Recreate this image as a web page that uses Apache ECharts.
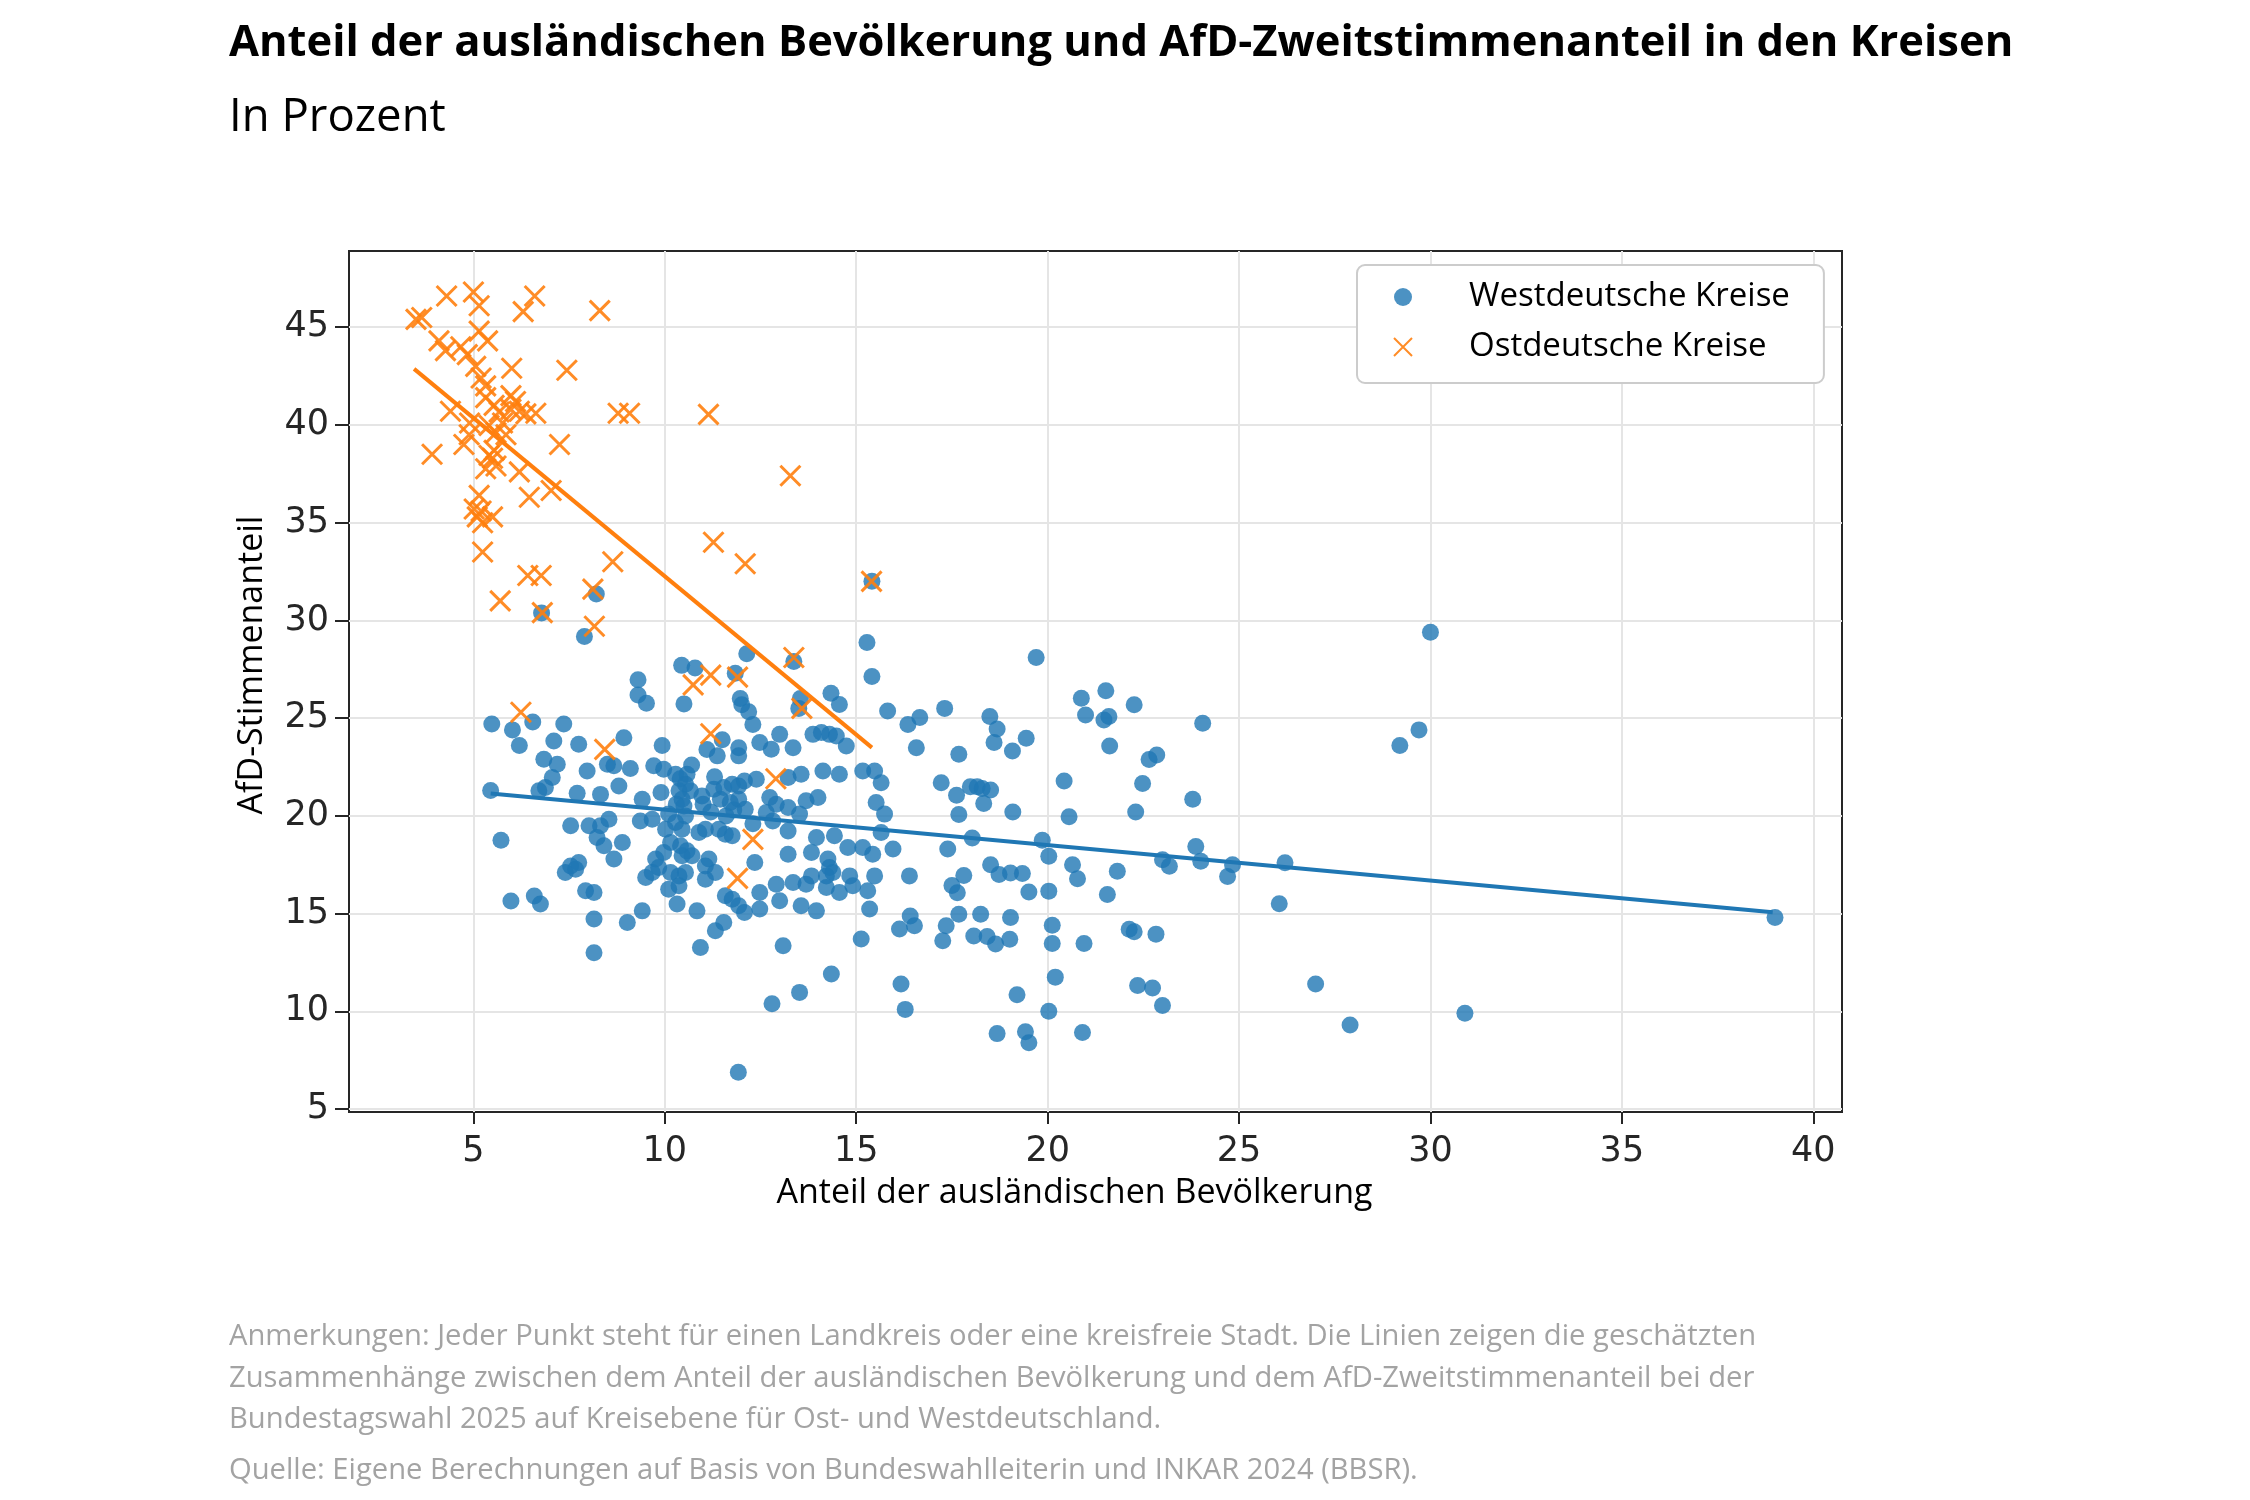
<!DOCTYPE html>
<html>
<head>
<meta charset="utf-8">
<title>AfD und ausländische Bevölkerung</title>
<script src="https://cdn.jsdelivr.net/npm/echarts@6/dist/echarts.min.js"></script>
<style>
    html, body { margin: 0; padding: 0; background: #fff; }
    #chart { width: 2250px; height: 1500px; }
</style>
</head>
<body>
<div id="chart"></div>
<script>
// Anteil ausländische Bevölkerung (x) / AfD-Zweitstimmenanteil (y), in Prozent
var westPoints = [
    // oberhalb 25 %
    [8.21, 31.35], [6.78, 30.38], [7.9, 29.18], [12.14, 28.3], [10.44, 27.7], [10.79, 27.56], [11.84, 27.3],
    [13.37, 27.9], [9.3, 26.96], [9.3, 26.19], [9.52, 25.76], [10.5, 25.73], [11.97, 26.0], [12.01, 25.68],
    [12.19, 25.33], [13.54, 26.0], [13.5, 25.5], [15.41, 32.0], [15.28, 28.87], [15.41, 27.13], [19.7, 28.1],
    [15.82, 25.37], [16.66, 25.03], [17.31, 25.5], [18.49, 25.08], [14.34, 26.27], [14.56, 25.7], [20.88, 26.02],
    [21.52, 26.4], [22.26, 25.68], [20.99, 25.16], [21.6, 25.08], [30.0, 29.4],
    // links
    [5.48, 24.7], [6.02, 24.4], [6.2, 23.6], [6.55, 24.8], [5.45, 21.3], [5.72, 18.75], [5.98, 15.64], [6.59, 15.9],
    [12.8, 10.39], [11.92, 6.88],
    // 7 bis 12 %
    [7.36, 24.7], [7.1, 23.83], [7.75, 23.66], [8.93, 24.0], [9.93, 23.6], [6.84, 22.9], [7.19, 22.64], [7.06, 21.96],
    [7.97, 22.3], [8.5, 22.64], [8.67, 22.56], [9.1, 22.42], [9.71, 22.56], [9.97, 22.39], [6.71, 21.28], [6.88, 21.45],
    [7.71, 21.16], [8.32, 21.1], [8.8, 21.53], [9.41, 20.85], [10.28, 22.13], [10.58, 22.13], [10.54, 21.62],
    [10.37, 21.28], [10.67, 21.28], [10.45, 20.85], [10.97, 21.02], [11.28, 21.36], [11.54, 21.45], [11.76, 21.62],
    [11.93, 21.53], [11.1, 23.4], [11.37, 23.07], [11.5, 23.9], [11.93, 23.49], [11.93, 23.07], [11.45, 20.85],
    [11.71, 20.68], [11.93, 20.85], [12.1, 20.34], [7.54, 19.49], [8.02, 19.49], [8.32, 19.49], [8.54, 19.83],
    [8.23, 18.89], [8.41, 18.47], [8.89, 18.64], [8.67, 17.79], [9.36, 19.74], [9.67, 19.83], [10.02, 19.32],
    [10.28, 19.66], [10.45, 19.32], [10.54, 20.0], [10.15, 18.64], [9.97, 18.13], [9.76, 17.79], [9.84, 17.36],
    [9.67, 17.1], [10.41, 18.47], [10.58, 18.21], [10.71, 17.96], [10.45, 17.96], [10.89, 19.15], [11.06, 19.32],
    [11.41, 19.32], [11.58, 19.06], [11.76, 18.98], [11.15, 17.79], [11.06, 17.44], [11.32, 17.1], [10.15, 17.1],
    [10.37, 16.93], [10.54, 17.1], [9.5, 16.85], [10.1, 16.25], [10.37, 16.42], [7.54, 17.44], [7.4, 17.1],
    [7.67, 17.27], [7.75, 17.61], [7.93, 16.17], [8.15, 16.08], [6.75, 15.49], [8.15, 14.72], [9.02, 14.55],
    [9.41, 15.14], [10.32, 15.49], [10.84, 15.14], [11.06, 16.76], [11.58, 15.91], [11.76, 15.74], [11.93, 15.4],
    [11.32, 14.12], [11.54, 14.55], [10.93, 13.27], [8.15, 13.0],
    [10.4, 21.9], [10.5, 20.5], [10.3, 20.6], [11.2, 20.2], [11.6, 20.0], [11.0, 20.6], [10.7, 22.6], [11.3, 22.0],
    [9.9, 21.2], [10.1, 20.1], [11.8, 20.3], [12.3, 19.6],
    // 12 bis 17,5 %
    [12.3, 24.68], [13.0, 24.17], [12.48, 23.75], [12.78, 23.41], [13.35, 23.49], [13.87, 24.17], [14.09, 24.26],
    [14.3, 24.17], [14.48, 24.09], [14.74, 23.58], [16.57, 23.49], [16.35, 24.68], [12.08, 21.79], [12.39, 21.87],
    [13.22, 21.96], [13.56, 22.13], [14.13, 22.3], [14.56, 22.13], [15.17, 22.3], [15.48, 22.3], [15.65, 21.7],
    [17.22, 21.7], [12.74, 20.94], [12.91, 20.6], [12.65, 20.17], [12.82, 19.74], [13.22, 20.43], [13.52, 20.09],
    [13.69, 20.77], [14.0, 20.94], [13.22, 19.23], [15.52, 20.68], [15.74, 20.09], [15.65, 19.15], [13.96, 18.89],
    [14.43, 18.98], [13.22, 18.04], [13.83, 18.13], [14.78, 18.38], [15.17, 18.38], [15.43, 18.04], [15.96, 18.3],
    [14.26, 17.79], [14.3, 17.36], [14.22, 16.93], [14.39, 17.1], [14.83, 16.93], [15.48, 16.93], [12.35, 17.61],
    [12.91, 16.5], [13.35, 16.59], [13.69, 16.5], [13.83, 16.93], [14.22, 16.34], [14.56, 16.08], [14.91, 16.42],
    [15.3, 16.17], [12.48, 16.08], [12.48, 15.23], [12.08, 15.06], [13.0, 15.66], [13.56, 15.4], [13.96, 15.14],
    [15.35, 15.23], [16.39, 16.93], [17.39, 18.3], [17.5, 16.44], [16.13, 14.21], [16.52, 14.38], [17.35, 14.38],
    [17.26, 13.61], [15.13, 13.7], [13.09, 13.36], [14.35, 11.91], [16.17, 11.4], [13.52, 10.97], [16.41, 14.88],
    // ab 17,5 %
    [17.68, 23.15], [18.68, 24.44], [18.6, 23.76], [19.08, 23.32], [19.44, 23.97], [17.62, 21.06], [17.98, 21.49],
    [18.16, 21.49], [18.29, 21.4], [18.51, 21.32], [18.33, 20.63], [17.68, 20.07], [19.09, 20.2], [20.43, 21.78],
    [20.56, 19.95], [21.47, 24.9], [21.62, 23.57], [24.05, 24.74], [22.65, 22.89], [22.85, 23.11], [22.48, 21.66],
    [23.79, 20.85], [22.3, 20.2], [18.03, 18.87], [19.86, 18.75], [23.87, 18.43],
    [17.81, 16.95], [17.64, 16.07], [20.03, 17.93], [18.51, 17.5], [18.73, 17.0], [19.03, 17.08], [19.34, 17.05],
    [20.65, 17.5], [20.78, 16.78], [21.82, 17.17], [23.0, 17.76], [23.18, 17.42], [24.0, 17.68], [24.83, 17.5],
    [24.7, 16.9], [21.56, 15.98], [19.51, 16.1], [20.03, 16.15], [17.68, 14.97], [18.25, 14.97], [18.07, 13.86],
    [18.42, 13.83], [18.64, 13.44], [19.01, 13.69], [19.03, 14.8], [20.12, 14.41], [20.12, 13.47], [20.95, 13.47],
    [22.13, 14.2], [22.26, 14.07], [22.83, 13.95], [19.2, 10.85], [20.2, 11.75], [20.03, 10.0], [22.35, 11.32],
    [22.74, 11.19], [23.0, 10.3], [18.68, 8.86], [19.42, 8.95], [19.51, 8.39], [20.91, 8.92], [16.28, 10.1],
    [29.7, 24.4], [29.2, 23.6], [26.2, 17.6], [26.05, 15.5], [27.0, 11.4], [27.9, 9.3], [30.9, 9.9], [39.0, 14.8]
];

var eastPoints = [
    [3.5, 45.4], [3.65, 45.5], [4.3, 46.6], [5.0, 46.8], [5.15, 46.1], [6.6, 46.6], [6.3, 45.8], [8.3, 45.85],
    [4.1, 44.3], [4.27, 43.8], [5.15, 44.8], [5.37, 44.3], [4.67, 44.0], [4.84, 43.6], [5.06, 43.0], [5.2, 42.4],
    [6.0, 42.9], [7.44, 42.8], [5.32, 42.0], [5.98, 41.5], [6.1, 41.2], [5.32, 41.4], [5.54, 41.0], [4.4, 40.7],
    [4.9, 40.1], [5.67, 40.66], [5.98, 40.8], [6.2, 40.7], [6.37, 40.57], [6.63, 40.6], [8.78, 40.6], [9.08, 40.6],
    [11.14, 40.54], [5.41, 39.97], [5.76, 40.1], [4.89, 39.5], [4.75, 39.0], [5.59, 39.6], [5.85, 39.5], [7.25, 39.0],
    [3.92, 38.5], [5.41, 38.44], [5.54, 38.7], [5.32, 37.76], [5.59, 37.9], [5.5, 38.3], [6.2, 37.6], [6.46, 36.3],
    [7.03, 36.65], [5.15, 36.4], [5.02, 35.7], [5.2, 35.6], [5.1, 35.3], [5.5, 35.3], [5.24, 35.0], [13.28, 37.4],
    [5.24, 33.5], [11.27, 34.0], [12.1, 32.9], [8.64, 33.0], [6.42, 32.3], [6.77, 32.3], [5.7, 31.0], [8.12, 31.6],
    [6.8, 30.4], [8.16, 29.7], [13.37, 28.1], [11.2, 27.2], [10.74, 26.7], [11.9, 27.1], [13.58, 25.5], [6.24, 25.3],
    [11.2, 24.2], [8.43, 23.4], [12.9, 21.9], [12.3, 18.8], [11.9, 16.8], [15.4, 32.0]
];

// geschätzte Zusammenhänge (Regressionsgeraden), Endpunkte
var westTrend = [[5.45, 21.15], [38.94, 15.07]];
var eastTrend = [[3.45, 42.87], [15.41, 23.49]];

var xTicks = [5, 10, 15, 20, 25, 30, 35, 40];
var yTicks = [5, 10, 15, 20, 25, 30, 35, 40, 45];
var xRange = [1.75, 40.75];
var yRange = [4.85, 48.9];

var seriesNames = ['Westdeutsche Kreise', 'Ostdeutsche Kreise'];
var colors = ['#1f77b4', '#ff7f0e'];

var noteLines = [
    'Anmerkungen: Jeder Punkt steht für einen Landkreis oder eine kreisfreie Stadt. Die Linien zeigen die geschätzten',
    'Zusammenhänge zwischen dem Anteil der ausländischen Bevölkerung und dem AfD-Zweitstimmenanteil bei der',
    'Bundestagswahl 2025 auf Kreisebene für Ost- und Westdeutschland.'
];
var sourceLine = 'Quelle: Eigene Berechnungen auf Basis von Bundeswahlleiterin und INKAR 2024 (BBSR).';

var chart = echarts.init(document.getElementById('chart'));

var axisColor = '#262626';
var gridColor = '#e5e5e5';

var option = {
    backgroundColor: '#fff',
    animation: false,

    title: [
        {
            text: 'Anteil der ausländischen Bevölkerung und AfD-Zweitstimmenanteil in den Kreisen',
            left: 229,
            top: 22,
            padding: 0,
            textStyle: {
                fontFamily: 'Open Sans',
                fontWeight: 'bold',
                fontSize: 43.5,
                color: '#000'
            }
        },
        {
            text: 'In Prozent',
            left: 229,
            top: 95,
            padding: 0,
            textStyle: {
                fontFamily: 'Open Sans',
                fontWeight: 'normal',
                fontSize: 45.5,
                color: '#000'
            }
        },
        {
            text: noteLines.join('\n'),
            left: 229,
            top: 1316,
            padding: 0,
            textStyle: {
                fontFamily: 'Open Sans',
                fontWeight: 'normal',
                fontSize: 29.2,
                lineHeight: 41.5,
                color: '#a3a3a3'
            }
        },
        {
            text: sourceLine,
            left: 229,
            top: 1450,
            padding: 0,
            textStyle: {
                fontFamily: 'Open Sans',
                fontWeight: 'normal',
                fontSize: 29.2,
                lineHeight: 41.5,
                color: '#a3a3a3'
            }
        }
    ],

    legend: {
        data: seriesNames,
        orient: 'vertical',
        left: 1357,
        top: 265,
        padding: [14, 34, 18, 36],
        itemGap: 14,
        itemWidth: 18,
        itemHeight: 18,
        backgroundColor: '#fff',
        borderColor: '#cccccc',
        borderWidth: 2,
        borderRadius: 8,
        textStyle: {
            fontFamily: 'Open Sans',
            fontSize: 33,
            color: '#000',
            lineHeight: 36,
            padding: [0, 0, 0, 52]
        }
    },

    grid: {
        left: 349,
        top: 251,
        width: 1493,
        height: 861,
        show: true,
        borderColor: axisColor,
        borderWidth: 2,
        backgroundColor: 'transparent'
    },

    xAxis: {
        type: 'value',
        min: xRange[0],
        max: xRange[1],
        name: 'Anteil der ausländischen Bevölkerung',
        nameLocation: 'middle',
        nameGap: 64,
        nameTextStyle: {
            fontFamily: 'Open Sans',
            fontSize: 34,
            color: '#000',
            padding: [0, 42, 0, 0]
        },
        axisLine: { show: false },
        axisTick: {
            show: true,
            customValues: xTicks,
            length: 12,
            lineStyle: { color: axisColor, width: 2 }
        },
        axisLabel: {
            customValues: xTicks,
            margin: 22,
            fontFamily: 'DejaVu Sans',
            fontSize: 35,
            color: axisColor
        },
        splitLine: {
            show: true,
            lineStyle: { color: gridColor, width: 2 }
        }
    },

    yAxis: {
        type: 'value',
        min: yRange[0],
        max: yRange[1],
        name: 'AfD-Stimmenanteil',
        nameLocation: 'middle',
        nameGap: 80,
        nameTextStyle: {
            fontFamily: 'Open Sans',
            fontSize: 34,
            color: '#000',
            padding: [0, 0, 0, 33]
        },
        axisLine: { show: false },
        axisTick: {
            show: true,
            customValues: yTicks,
            length: 14,
            lineStyle: { color: axisColor, width: 2 }
        },
        axisLabel: {
            customValues: yTicks,
            margin: 20,
            fontFamily: 'DejaVu Sans',
            fontSize: 35,
            color: axisColor
        },
        splitLine: {
            show: true,
            lineStyle: { color: gridColor, width: 2 }
        }
    },

    series: [
        {
            name: seriesNames[0],
            type: 'scatter',
            data: westPoints,
            symbol: 'circle',
            symbolSize: 17,
            itemStyle: { color: colors[0], opacity: 0.8 },
            emphasis: { disabled: true },
            z: 2
        },
        {
            name: seriesNames[1],
            type: 'scatter',
            data: eastPoints,
            symbol: 'path://M0,0L10,10M10,0L0,10',
            symbolSize: 20,
            itemStyle: {
                color: colors[1],
                borderColor: colors[1],
                borderWidth: 3,
                opacity: 0.9
            },
            emphasis: { disabled: true },
            z: 3
        },
        {
            name: 'Trend West',
            type: 'line',
            data: westTrend,
            symbol: 'none',
            silent: true,
            lineStyle: { color: colors[0], width: 4 },
            z: 4
        },
        {
            name: 'Trend Ost',
            type: 'line',
            data: eastTrend,
            symbol: 'none',
            silent: true,
            lineStyle: { color: colors[1], width: 4 },
            z: 4
        }
    ]
};

chart.setOption(option);
</script>
</body>
</html>
